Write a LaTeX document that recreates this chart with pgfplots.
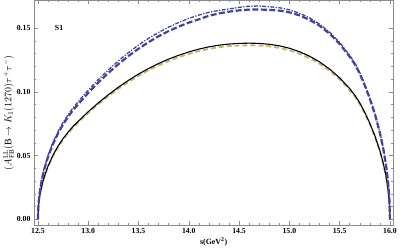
\documentclass[border=0pt]{standalone}
\usepackage{fontspec}
\setmainfont{Liberation Serif}
\usepackage{pgfplots}
\usepackage{pgfplotstable}
\pgfplotsset{compat=1.18}
\definecolor{bl}{RGB}{66,66,158}
\definecolor{yl}{RGB}{196,182,110}
\definecolor{fr}{RGB}{140,140,140}

% s, black (solid), yellow (dashed), blue upper (dash-dot), blue lower (dashed)
\pgfplotstableread{
s bk ye up lo
12.500 0      0      0      0
12.505 0.0095 0.0094 0.0114 0.0112
12.510 0.0135 0.0133 0.0162 0.0159
12.520 0.0191 0.0189 0.0229 0.0224
12.540 0.0267 0.0264 0.0320 0.0314
12.560 0.0326 0.0322 0.0391 0.0383
12.600 0.0416 0.0411 0.0499 0.0489
12.650 0.0503 0.0497 0.0604 0.0591
12.700 0.0574 0.0567 0.0689 0.0674
12.750 0.0633 0.0625 0.0760 0.0744
12.800 0.0684 0.0676 0.0821 0.0804
12.850 0.0729 0.0720 0.0875 0.0857
12.900 0.0768 0.0759 0.0922 0.0902
13.000 0.0844 0.0834 0.1013 0.0992
13.100 0.0913 0.0902 0.1096 0.1073
13.200 0.0977 0.0965 0.1172 0.1148
13.300 0.1036 0.1024 0.1243 0.1217
13.400 0.1090 0.1077 0.1308 0.1281
13.500 0.1139 0.1125 0.1367 0.1338
13.600 0.1183 0.1169 0.1420 0.1390
13.700 0.1222 0.1207 0.1466 0.1436
13.800 0.1257 0.1242 0.1508 0.1477
13.900 0.1287 0.1272 0.1544 0.1512
14.000 0.1313 0.1297 0.1576 0.1543
14.100 0.1335 0.1319 0.1602 0.1569
14.200 0.1353 0.1337 0.1624 0.1597
14.300 0.1366 0.1350 0.1639 0.1615
14.400 0.1375 0.1359 0.1650 0.1629
14.500 0.1380 0.1363 0.1663 0.1639
14.600 0.1382 0.1365 0.1672 0.1645
14.700 0.1380 0.1363 0.1673 0.1646
14.800 0.1373 0.1357 0.1668 0.1643
14.900 0.1361 0.1345 0.1660 0.1637
15.000 0.1342 0.1326 0.1644 0.1624
15.100 0.1315 0.1299 0.1617 0.1600
15.200 0.1280 0.1265 0.1581 0.1565
15.300 0.1235 0.1220 0.1531 0.1519
15.400 0.1179 0.1165 0.1468 0.1456
15.500 0.1110 0.1097 0.1388 0.1376
15.600 0.1025 0.1013 0.1286 0.1276
15.650 0.0975 0.0963 0.1227 0.1217
15.700 0.0914 0.0903 0.1152 0.1143
15.750 0.0839 0.0829 0.1059 0.1050
15.800 0.0754 0.0745 0.0954 0.0946
15.850 0.0656 0.0648 0.0833 0.0827
15.900 0.0539 0.0533 0.0685 0.0679
15.930 0.0452 0.0447 0.0574 0.0570
15.960 0.0344 0.0340 0.0437 0.0433
15.980 0.0243 0.0240 0.0309 0.0306
15.990 0.0172 0.0170 0.0218 0.0217
15.995 0.0122 0.0121 0.0155 0.0154
16.000 0      0      0      0
}\tblData

\begin{document}
\begin{tikzpicture}
\begin{axis}[
  scale only axis, width=361bp, height=226bp,
  xmin=12.46, xmax=16.035, ymin=-0.0047, ymax=0.1719,
  xtick={12.5,13,13.5,14,14.5,15,15.5,16},
  ytick={0,0.05,0.1,0.15},
  minor x tick num=4, minor y tick num=4,
  tick align=inside, major tick length=4bp, minor tick length=2bp,
  axis line style={fr}, tick style={fr, line width=0.4pt},
  xticklabel style={/pgf/number format/fixed, /pgf/number format/fixed zerofill, /pgf/number format/precision=1},
  yticklabel style={/pgf/number format/fixed, /pgf/number format/fixed zerofill, /pgf/number format/precision=2},
  /pgf/number format/assume math mode=true,
  tick label style={font=\fontsize{7.8}{8}\selectfont\bfseries},
  xlabel={\bfseries s(GeV$^{\mathbf{2}}$)},
  ylabel={\bfseries $(A^{\mathrm{LL}}_{\mathrm{FB}}(\mathrm{B}\rightarrow K_1(1270)\tau^{+}\tau^{-})$},
  xlabel style={font=\fontsize{8}{9}\selectfont, yshift=3bp},
  ylabel style={font=\fontsize{10}{11}\selectfont, yshift=-4bp},
]
\addplot[yl, line width=1.8pt, dash pattern=on 5pt off 3pt] table[x=s,y=ye] {\tblData};
\addplot[black, line width=1.1pt] table[x=s,y=bk] {\tblData};
\addplot[bl, line width=2.2pt, dash pattern=on 6pt off 2.5pt] table[x=s,y=lo] {\tblData};
\addplot[bl, line width=1.3pt, dash pattern=on 4pt off 1.5pt on 1.2pt off 1.5pt] table[x=s,y=up] {\tblData};
\node[font=\fontsize{7.8}{8}\selectfont\bfseries] at (axis cs:12.71,0.150) {S1};
\end{axis}
\end{tikzpicture}
\end{document}
